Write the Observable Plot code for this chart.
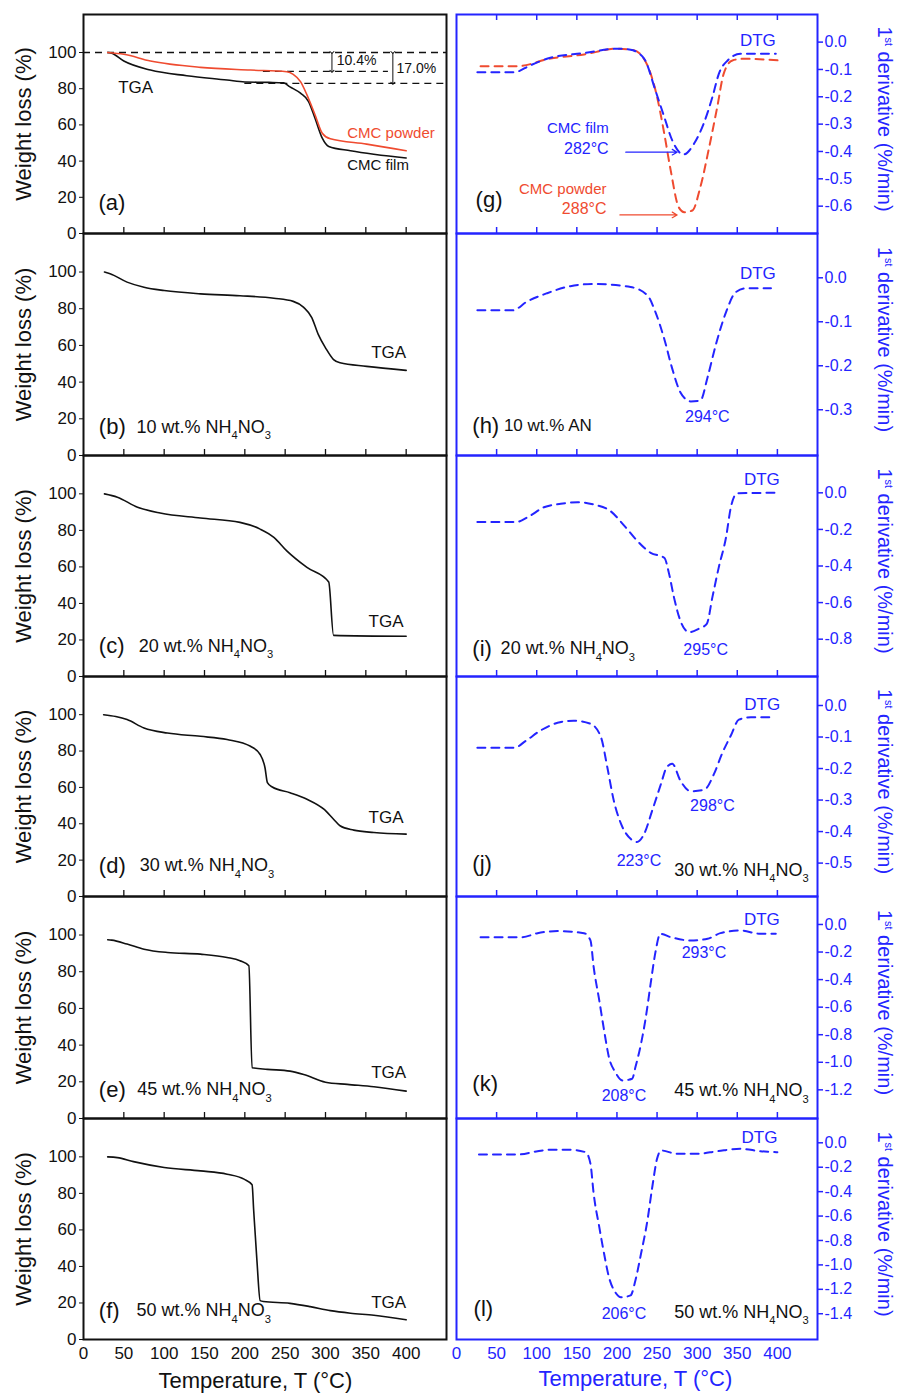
<!DOCTYPE html>
<html><head><meta charset="utf-8">
<script src="https://cdn.jsdelivr.net/npm/d3@7"></script>
<script src="https://cdn.jsdelivr.net/npm/@observablehq/plot@0.6"></script>
<style>
body{margin:0;background:#fff;}
#chart{position:relative;width:899px;height:1393px;overflow:hidden;}
#chart svg{position:absolute;overflow:visible;}
</style></head><body><div id="chart"></div>
<script>
// ---------- tick values ----------
const xTicks = [50, 100, 150, 200, 250, 300, 350, 400];
const xLabels = [0, 50, 100, 150, 200, 250, 300, 350, 400];
const wTicks = [0, 20, 40, 60, 80, 100];
const ticksG = [0, -0.1, -0.2, -0.3, -0.4, -0.5, -0.6];
const ticksH = [0, -0.1, -0.2, -0.3];
const ticksI = [0, -0.2, -0.4, -0.6, -0.8];
const ticksJ = [0, -0.1, -0.2, -0.3, -0.4, -0.5];
const ticksK = [0, -0.2, -0.4, -0.6, -0.8, -1.0, -1.2];
const ticksL = [0, -0.2, -0.4, -0.6, -0.8, -1.0, -1.2, -1.4];

// ---------- TGA data (temperature °C, weight %) ----------
const filmA_T = [30, 35, 50, 83, 128, 178, 200, 230, 248, 256, 269, 279, 287, 296, 304, 331, 400];
const filmA_W = [100, 99.6, 95.3, 90.3, 87.2, 84.8, 83.7, 83.5, 83.2, 81, 77.5, 72.9, 63.7, 52.7, 48.1, 45.7, 41.7];
const powderA_T = [30, 50, 83, 145, 207, 252, 260, 269, 277, 287, 296, 306, 351, 400];
const powderA_W = [100, 99, 95.3, 91.8, 90.3, 89.4, 87.9, 83.9, 76.6, 65.6, 55.4, 52.3, 49.4, 45.7];
const tgaB_T = [26, 33, 54, 75, 100, 145, 194, 236, 260, 273, 283, 291, 300, 310, 318, 351, 400];
const tgaB_W = [100, 99.1, 94.5, 91.7, 89.9, 88.1, 87.1, 85.7, 84, 80.7, 75.2, 66, 58.7, 52.3, 50.5, 48.6, 46.4];
const tgaC_T = [26, 42, 67, 95, 145, 194, 219, 236, 252, 277, 304, 310, 400];
const tgaC_W = [100, 98.2, 92.7, 89.5, 86.8, 84.4, 80.7, 76.2, 68.8, 59.7, 51.7, 22.5, 22];
const tgaD_T = [25, 40, 54, 75, 104, 145, 178, 207, 219, 225, 228, 234, 256, 277, 298, 310, 318, 335, 360, 400];
const tgaD_W = [100, 99, 97.3, 92.7, 89.9, 88.1, 86.3, 82.6, 78.1, 70.8, 62.6, 60.2, 57.1, 53.5, 48, 42.5, 38.9, 36.5, 35.2, 34.3];
const tgaE_T = [30, 35, 54, 75, 104, 145, 178, 194, 205, 209, 228, 256, 273, 300, 327, 360, 400];
const tgaE_W = [97.4, 97.2, 95.1, 92.3, 90.5, 89.6, 87.8, 86, 83.2, 27.7, 26.8, 25.8, 24, 19.8, 18.6, 17.3, 14.9];
const tgaF_T = [30, 42, 62, 100, 145, 178, 199, 209, 211, 215, 219, 223, 256, 281, 306, 331, 360, 400];
const tgaF_W = [100, 99.6, 97.4, 94.2, 92.3, 90.5, 87.8, 84.7, 70.5, 43.2, 21.3, 20.8, 19.8, 18, 15.8, 14.4, 13.3, 10.8];

// ---------- DTG data (temperature °C, %/min) ----------
const filmG_T = [26, 72, 92, 117, 159, 200, 217, 234, 248, 259, 269, 283, 296, 308, 319, 327, 338, 354, 398];
const filmG_D = [-0.11, -0.11, -0.085, -0.057, -0.04, -0.024, -0.028, -0.061, -0.177, -0.274, -0.36, -0.411, -0.372, -0.299, -0.201, -0.116, -0.067, -0.043, -0.043];
const powderG_T = [30, 76, 117, 159, 200, 221, 238, 250, 259, 267, 277, 284, 294, 304, 315, 325, 333, 344, 358, 402];
const powderG_D = [-0.088, -0.088, -0.06, -0.045, -0.024, -0.03, -0.085, -0.2, -0.335, -0.469, -0.604, -0.622, -0.616, -0.53, -0.384, -0.238, -0.116, -0.067, -0.061, -0.067];
const dtgH_T = [26, 70, 88, 113, 142, 171, 217, 238, 248, 259, 269, 279, 292, 304, 313, 323, 336, 348, 361, 392];
const dtgH_D = [-0.074, -0.074, -0.054, -0.035, -0.019, -0.014, -0.021, -0.04, -0.078, -0.139, -0.207, -0.26, -0.281, -0.279, -0.226, -0.154, -0.078, -0.033, -0.024, -0.024];
const dtgI_T = [26, 74, 90, 109, 130, 151, 171, 192, 209, 225, 242, 259, 265, 271, 279, 290, 302, 312, 319, 327, 336, 342, 350, 398];
const dtgI_D = [-0.16, -0.16, -0.13, -0.079, -0.06, -0.051, -0.064, -0.1, -0.179, -0.261, -0.328, -0.355, -0.443, -0.57, -0.698, -0.762, -0.743, -0.716, -0.57, -0.406, -0.243, -0.079, -0.002, 0];
const dtgJ_T = [26, 72, 86, 105, 126, 146, 167, 180, 188, 196, 205, 217, 225, 234, 244, 255, 262, 269, 279, 292, 309, 321, 331, 342, 352, 367, 396];
const dtgJ_D = [-0.134, -0.134, -0.113, -0.079, -0.055, -0.048, -0.058, -0.1, -0.196, -0.301, -0.375, -0.423, -0.433, -0.407, -0.333, -0.248, -0.196, -0.185, -0.238, -0.272, -0.267, -0.217, -0.153, -0.095, -0.045, -0.037, -0.037];
const dtgK_T = [30, 82, 101, 126, 159, 167, 171, 178, 184, 190, 198, 207, 219, 223, 230, 236, 242, 248, 254, 267, 292, 313, 329, 354, 379, 398];
const dtgK_D = [-0.092, -0.092, -0.063, -0.048, -0.063, -0.116, -0.31, -0.552, -0.769, -0.963, -1.072, -1.132, -1.12, -1.036, -0.866, -0.673, -0.43, -0.201, -0.068, -0.092, -0.116, -0.104, -0.063, -0.044, -0.068, -0.068];
const dtgL_T = [28, 76, 101, 117, 140, 161, 167, 171, 178, 184, 190, 198, 205, 217, 223, 230, 238, 244, 250, 255, 275, 300, 325, 354, 379, 400];
const dtgL_D = [-0.096, -0.096, -0.069, -0.057, -0.057, -0.077, -0.172, -0.418, -0.691, -0.909, -1.1, -1.224, -1.265, -1.25, -1.128, -0.909, -0.636, -0.364, -0.131, -0.063, -0.09, -0.09, -0.069, -0.049, -0.069, -0.077];

// ---------- reference levels in (a) ----------
const levelsA = [{y: 100, x1: 0, x2: 450}, {y: 89.6, x1: 223, x2: 378}, {y: 83, x1: 200, x2: 450}];
const arrowsA = [{x: 308, y1: 100, y2: 89.6}, {x: 383.5, y1: 100, y2: 83}];

// ---------- styling ----------
const FONT = '"Liberation Sans", Arial, Helvetica, sans-serif';
const BLUE = "#2424ff", RED = "#ef4b30", BLACK = "#111111";
const B = [14, 233, 455, 676, 896, 1118, 1339];
const chart = document.getElementById("chart");
const zip = (T, V) => T.map((t, i) => ({t, v: V[i]}));

// ---------- annotations ----------
const annLeft = [
  [ {x: 43, y: 80.6, s: "TGA", a: "start", f: 17, c: BLACK},
    {x: 327, y: 55.7, s: "CMC powder", a: "start", f: 15, c: RED},
    {x: 327, y: 37.6, s: "CMC film", a: "start", f: 15, c: BLACK},
    {x: 18.6, y: 16.7, s: "(a)", a: "start", f: 22, c: BLACK},
    {x: 314, y: 95.4, s: "10.4%", a: "start", f: 14, c: BLACK},
    {x: 388, y: 91.2, s: "17.0%", a: "start", f: 14, c: BLACK} ],
  [ {x: 400, y: 56, s: "TGA", a: "end", f: 17, c: BLACK},
    {x: 19, y: 15.6, s: "(b)", a: "start", f: 22, c: BLACK},
    {x: 65.6, y: 15.6, s: "10 wt.% NH4NO3", a: "start", f: 18, c: BLACK} ],
  [ {x: 396.7, y: 30.3, s: "TGA", a: "end", f: 17, c: BLACK},
    {x: 19, y: 16.5, s: "(c)", a: "start", f: 22, c: BLACK},
    {x: 68.5, y: 16.5, s: "20 wt.% NH4NO3", a: "start", f: 18, c: BLACK} ],
  [ {x: 396.7, y: 43.4, s: "TGA", a: "end", f: 17, c: BLACK},
    {x: 19, y: 17, s: "(d)", a: "start", f: 22, c: BLACK},
    {x: 69.7, y: 17, s: "30 wt.% NH4NO3", a: "start", f: 18, c: BLACK} ],
  [ {x: 400, y: 25.3, s: "TGA", a: "end", f: 17, c: BLACK},
    {x: 19, y: 15.8, s: "(e)", a: "start", f: 22, c: BLACK},
    {x: 66.5, y: 15.8, s: "45 wt.% NH4NO3", a: "start", f: 18, c: BLACK} ],
  [ {x: 400, y: 20.4, s: "TGA", a: "end", f: 17, c: BLACK},
    {x: 19, y: 15.8, s: "(f)", a: "start", f: 22, c: BLACK},
    {x: 65.6, y: 15.8, s: "50 wt.% NH4NO3", a: "start", f: 18, c: BLACK} ]
];
const annRight = [
  [ {x: 398, y: 0.006, s: "DTG", a: "end", f: 17, c: BLUE},
    {x: 189.7, y: -0.316, s: "CMC film", a: "end", f: 15, c: BLUE},
    {x: 189.7, y: -0.389, s: "282°C", a: "end", f: 16, c: BLUE},
    {x: 187, y: -0.539, s: "CMC powder", a: "end", f: 15, c: RED},
    {x: 187, y: -0.61, s: "288°C", a: "end", f: 16, c: RED},
    {x: 23.8, y: -0.579, s: "(g)", a: "start", f: 22, c: BLACK} ],
  [ {x: 398, y: 0.009, s: "DTG", a: "end", f: 17, c: BLUE},
    {x: 312.7, y: -0.317, s: "294°C", a: "middle", f: 16, c: BLUE},
    {x: 19.7, y: -0.336, s: "(h)", a: "start", f: 22, c: BLACK},
    {x: 59.1, y: -0.336, s: "10 wt.% AN", a: "start", f: 17, c: BLACK} ],
  [ {x: 403, y: 0.071, s: "DTG", a: "end", f: 17, c: BLUE},
    {x: 310.6, y: -0.858, s: "295°C", a: "middle", f: 16, c: BLUE},
    {x: 19.7, y: -0.852, s: "(i)", a: "start", f: 22, c: BLACK},
    {x: 55, y: -0.852, s: "20 wt.% NH4NO3", a: "start", f: 18, c: BLACK} ],
  [ {x: 403.5, y: 0.002, s: "DTG", a: "end", f: 17, c: BLUE},
    {x: 227.5, y: -0.492, s: "223°C", a: "middle", f: 16, c: BLUE},
    {x: 319, y: -0.319, s: "298°C", a: "middle", f: 16, c: BLUE},
    {x: 19.7, y: -0.502, s: "(j)", a: "start", f: 22, c: BLACK},
    {x: 439, y: -0.523, s: "30 wt.% NH4NO3", a: "end", f: 18, c: BLACK} ],
  [ {x: 403, y: 0.034, s: "DTG", a: "end", f: 17, c: BLUE},
    {x: 208.8, y: -1.241, s: "208°C", a: "middle", f: 16, c: BLUE},
    {x: 308.5, y: -0.208, s: "293°C", a: "middle", f: 16, c: BLUE},
    {x: 19.7, y: -1.156, s: "(k)", a: "start", f: 22, c: BLACK},
    {x: 439, y: -1.205, s: "45 wt.% NH4NO3", a: "end", f: 18, c: BLACK} ],
  [ {x: 400, y: 0.046, s: "DTG", a: "end", f: 17, c: BLUE},
    {x: 208.8, y: -1.4, s: "206°C", a: "middle", f: 16, c: BLUE},
    {x: 21.3, y: -1.357, s: "(l)", a: "start", f: 22, c: BLACK},
    {x: 439, y: -1.387, s: "50 wt.% NH4NO3", a: "end", f: 18, c: BLACK} ]
];

function annMarks(list) {
  return list.map(d => Plot.text([d], {x: "x", y: "y", text: "s", textAnchor: d.a, fontSize: d.f, fill: d.c, lineAnchor: "middle"}));
}

function fixText(svg) {
  const NS = "http://www.w3.org/2000/svg";
  svg.querySelectorAll("text").forEach(t => {
    const s = t.textContent;
    const fs = parseFloat(t.getAttribute("font-size")) || 18;
    if (s.includes("NH4NO3")) {
      const pre = s.slice(0, s.indexOf("NH4NO3"));
      t.textContent = "";
      const sh = fs * 0.35, small = fs * 0.62;
      [[pre + "NH", 0, null], ["4", sh, small], ["NO", -sh, null], ["3", sh, small]].forEach(([str, dy, size]) => {
        const sp = document.createElementNS(NS, "tspan");
        sp.textContent = str;
        if (dy) sp.setAttribute("dy", dy);
        if (size) sp.setAttribute("font-size", size);
        t.appendChild(sp);
      });
    } else if (s.startsWith("1st ")) {
      t.textContent = "";
      const sh = fs * 0.4;
      [["1", 0, null], ["st", -sh, fs * 0.6], [" derivative (%/min)", sh, null]].forEach(([str, dy, size]) => {
        const sp = document.createElementNS(NS, "tspan");
        sp.textContent = str;
        if (dy) sp.setAttribute("dy", dy);
        if (size) sp.setAttribute("font-size", size);
        t.appendChild(sp);
      });
    }
  });
}

function place(svg, left, top) {
  svg.style.left = left + "px";
  svg.style.top = top + "px";
  fixText(svg);
  chart.appendChild(svg);
}

// ---------- left column (TGA) ----------
const leftSeries = [
  [{d: zip(filmA_T, filmA_W), c: BLACK}, {d: zip(powderA_T, powderA_W), c: RED}],
  [{d: zip(tgaB_T, tgaB_W), c: BLACK}],
  [{d: zip(tgaC_T, tgaC_W), c: BLACK}],
  [{d: zip(tgaD_T, tgaD_W), c: BLACK}],
  [{d: zip(tgaE_T, tgaE_W), c: BLACK}],
  [{d: zip(tgaF_T, tgaF_W), c: BLACK}]
];

for (let i = 0; i < 6; i++) {
  const last = i === 5;
  const h = B[i + 1] - B[i];
  const mt = 6, mb = last ? 60 : 6;
  const marks = [];
  if (i === 0) {
    marks.push(Plot.ruleY(levelsA, {y: "y", x1: "x1", x2: "x2", stroke: BLACK, strokeWidth: 1.3, strokeDasharray: "7,5"}));
    marks.push(Plot.link(arrowsA, {x1: "x", x2: "x", y1: "y1", y2: "y2", stroke: BLACK, strokeWidth: 1, markerStart: "arrow", markerEnd: "arrow"}));
  }
  for (const s of leftSeries[i]) {
    marks.push(Plot.line(s.d, {x: "t", y: "v", stroke: s.c, strokeWidth: 1.6, curve: "monotone-x"}));
  }
  marks.push(...annMarks(annLeft[i]));
  marks.push(Plot.axisY(wTicks, {anchor: "left", tickSize: 4, tickPadding: 3, fontSize: 17, tickFormat: d => String(d), label: null, stroke: BLACK, fill: BLACK}));
  if (!last) marks.push(Plot.tickX(xTicks, {x: d => d, insetTop: h - 6, stroke: BLACK, strokeWidth: 1.3}));
  if (last) {
    marks.push(Plot.axisX(xLabels, {anchor: "bottom", tickSize: 0, tickPadding: 7, fontSize: 17, tickFormat: d => String(d), label: null, fill: BLACK}));
    marks.push(Plot.text(["Temperature, T (°C)"], {x: 213, frameAnchor: "bottom", dy: 41, fontSize: 22, fill: BLACK, textAnchor: "middle", lineAnchor: "middle"}));
  }
  marks.push(Plot.text(["Weight loss (%)"], {frameAnchor: "left", dx: -60, rotate: -90, fontSize: 22, fill: BLACK, textAnchor: "middle", lineAnchor: "middle"}));
  marks.push(Plot.frame({stroke: BLACK, strokeWidth: 2}));
  const svg = Plot.plot({
    width: 450, height: h + mt + mb,
    marginLeft: 83, marginRight: 4, marginTop: mt, marginBottom: mb,
    x: {domain: [0, 450], axis: null},
    y: {domain: [0, 121], axis: null},
    style: {fontFamily: FONT, fontSize: "17px", color: BLACK, background: "transparent", overflow: "visible"},
    marks
  });
  place(svg, 0, B[i] - mt);
}

// ---------- right column (DTG) ----------
const rightSeries = [
  [{d: zip(powderG_T, powderG_D), c: RED}, {d: zip(filmG_T, filmG_D), c: BLUE}],
  [{d: zip(dtgH_T, dtgH_D), c: BLUE}],
  [{d: zip(dtgI_T, dtgI_D), c: BLUE}],
  [{d: zip(dtgJ_T, dtgJ_D), c: BLUE}],
  [{d: zip(dtgK_T, dtgK_D), c: BLUE}],
  [{d: zip(dtgL_T, dtgL_D), c: BLUE}]
];
const rightDomains = [[-0.70, 0.101], [-0.404, 0.1007], [-1.004, 0.204], [-0.606, 0.092], [-1.408, 0.203], [-1.611, 0.199]];
const rightTicks = [ticksG, ticksH, ticksI, ticksJ, ticksK, ticksL];
const arrowsG = [{x1: 211, x2: 275, y: -0.4025, c: BLUE}, {x1: 203.7, x2: 275, y: -0.632, c: RED}];

for (let i = 0; i < 6; i++) {
  const last = i === 5;
  const h = B[i + 1] - B[i];
  const mt = 6, mb = last ? 60 : 6;
  const marks = [];
  for (const s of rightSeries[i]) {
    marks.push(Plot.line(s.d, {x: "t", y: "v", stroke: s.c, strokeWidth: 2, strokeDasharray: "8,6", curve: "monotone-x"}));
  }
  if (i === 0) {
    for (const a of arrowsG) {
      marks.push(Plot.arrow([a], {x1: "x1", x2: "x2", y1: "y", y2: "y", stroke: a.c, strokeWidth: 1.2, headLength: 7}));
    }
  }
  marks.push(...annMarks(annRight[i]));
  marks.push(Plot.axisY(rightTicks[i], {anchor: "right", tickSize: 5, tickPadding: 2, fontSize: 16, tickFormat: d => d.toFixed(1), label: null, stroke: BLUE, fill: BLUE, strokeWidth: 1.5}));
  if (!last) marks.push(Plot.tickX(xTicks, {x: d => d, insetTop: h - 6, stroke: BLUE, strokeWidth: 1.5}));
  if (i === 0) marks.push(Plot.tickX(xTicks, {x: d => d, insetBottom: h - 6, stroke: BLUE, strokeWidth: 1.5}));
  if (last) {
    marks.push(Plot.axisX(xLabels, {anchor: "bottom", tickSize: 0, tickPadding: 7, fontSize: 17, tickFormat: d => String(d), label: null, fill: BLUE}));
    marks.push(Plot.text(["Temperature, T (°C)"], {x: 223, frameAnchor: "bottom", dy: 39, fontSize: 22, fill: BLUE, textAnchor: "middle", lineAnchor: "middle"}));
  }
  marks.push(Plot.text(["1st derivative (%/min)"], {frameAnchor: "right", dx: 67, dy: -5, rotate: 90, fontSize: 20, fill: BLUE, textAnchor: "middle", lineAnchor: "middle"}));
  marks.push(Plot.frame({stroke: BLUE, strokeWidth: 2}));
  const svg = Plot.plot({
    width: 459, height: h + mt + mb,
    marginLeft: 16, marginRight: 82, marginTop: mt, marginBottom: mb,
    x: {domain: [0, 450], axis: null},
    y: {domain: rightDomains[i], axis: null},
    style: {fontFamily: FONT, fontSize: "17px", color: BLUE, background: "transparent", overflow: "visible"},
    marks
  });
  place(svg, 440, B[i] - mt);
}
</script></body></html>
